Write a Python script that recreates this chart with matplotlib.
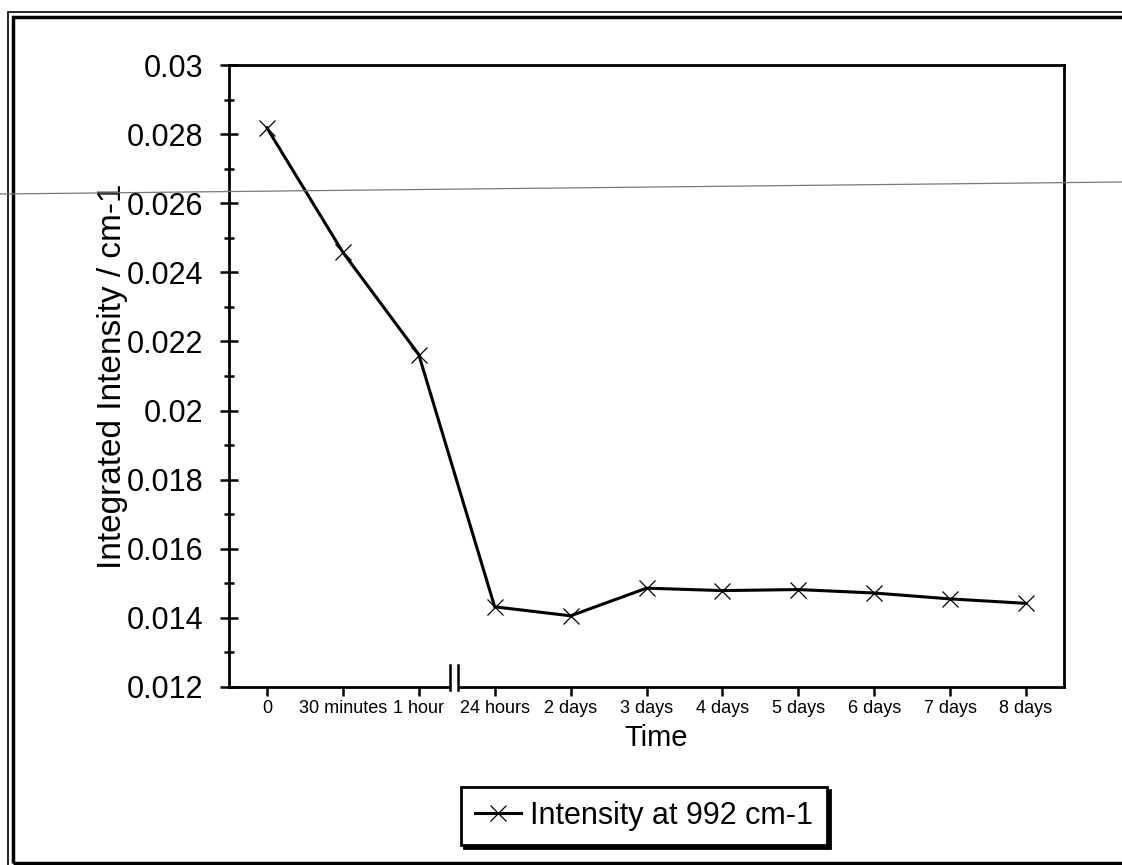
import numpy as np
import matplotlib.pyplot as plt
from matplotlib.lines import Line2D
from matplotlib.patches import Rectangle
from matplotlib.ticker import MultipleLocator

plt.rcParams['font.family'] = ['Liberation Sans', 'DejaVu Sans']

# data
time_labels = ['0', '30 minutes', '1 hour', '24 hours', '2 days', '3 days',
               '4 days', '5 days', '6 days', '7 days', '8 days']
intensity = [0.02818, 0.02458, 0.02162, 0.01432, 0.01406, 0.01486,
             0.01479, 0.01482, 0.01472, 0.01455, 0.01442]
series_name = 'Intensity at 992 cm-1'

W, H = 1122, 865
fig = plt.figure(figsize=(W / 100, H / 100), dpi=100)
ax = fig.add_axes([229 / W, 1 - 687 / H, (1064 - 229) / W, (687 - 65) / H])

x = np.arange(len(time_labels))
line, = ax.plot(x, intensity, '-', color='black', lw=2.2,
                marker='x', ms=12, mew=0.9, label=series_name)

ax.set_xlim(-0.5, len(time_labels) - 0.5)
ax.set_ylim(0.012, 0.03)
ax.set_xticks(x)
ax.set_xticklabels(time_labels, fontsize=13)
ax.yaxis.set_major_locator(MultipleLocator(0.002))
ax.yaxis.set_minor_locator(MultipleLocator(0.001))
ax.set_yticklabels([('%.3f' % v).rstrip('0') for v in ax.get_yticks()], fontsize=22)

ax.tick_params(axis='y', which='major', direction='inout', length=13, width=1.8, pad=12)
ax.tick_params(axis='y', which='minor', direction='inout', length=6.5, width=1.8)
ax.tick_params(axis='x', direction='out', length=6.5, width=1.8, pad=3)
for s in ax.spines.values():
    s.set_linewidth(2)

ax.set_xlabel('Time', fontsize=21)
ax.xaxis.set_label_coords(0.511, -0.06)
ax.set_ylabel('Integrated Intensity / cm-1', fontsize=24)
ax.yaxis.set_label_coords(-0.121, 0.5)

# axis break between "1 hour" and "24 hours"
bx = ax.get_xaxis_transform()
ax.add_patch(Rectangle((2.41, -0.01), 0.11, 0.02, transform=bx, color='white',
                       clip_on=False, zorder=5))
for xb in (2.41, 2.52):
    ax.add_line(Line2D([xb, xb], [-0.005, 0.035], transform=bx, color='black',
                       lw=1.8, clip_on=False, zorder=6))

leg = fig.legend(handles=[line], loc='center', bbox_to_anchor=(644 / W, 1 - 816 / H),
                 fontsize=22, handlelength=1.5, handletextpad=0.3, borderpad=0.45,
                 borderaxespad=0, fancybox=False, edgecolor='black', framealpha=1,
                 shadow={'color': 'black', 'alpha': 1})
leg.get_frame().set_linewidth(2)

# page frame (double rule) and the scanner's stray line
fig.add_artist(Rectangle((8 / W, 1 - 866 / H), 1.1, (866 - 12) / H, transform=fig.transFigure,
                         fill=False, lw=1.2, edgecolor='black'))
fig.add_artist(Rectangle((13 / W, 1 - 863 / H), 1.1, (863 - 17) / H, transform=fig.transFigure,
                         fill=False, lw=2.5, edgecolor='black'))
fig.add_artist(Line2D([0, 1], [1 - 194 / H, 1 - 182 / H], transform=fig.transFigure,
                      color='#777777', lw=0.9))

fig.savefig('out.png', dpi=100)
